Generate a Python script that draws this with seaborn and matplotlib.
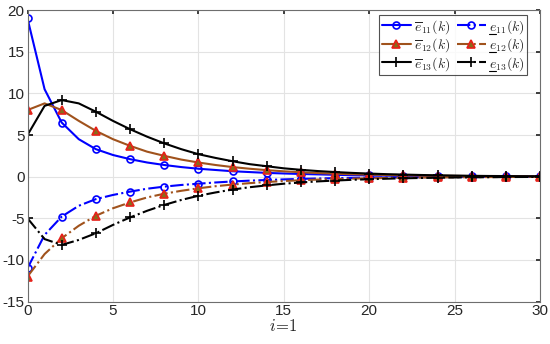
import matplotlib
matplotlib.use("Agg")
import matplotlib.pyplot as plt
from matplotlib.lines import Line2D
import numpy as np
import pandas as pd
import seaborn as sns

sns.set_theme(style="whitegrid")
plt.rcParams["font.family"] = ["Liberation Sans", "DejaVu Sans"]
plt.rcParams["mathtext.fontset"] = "cm"
plt.rcParams["axes.unicode_minus"] = False

k = list(range(31))

e11_up = [19.0, 10.5, 6.5, 4.5, 3.3, 2.6, 2.1, 1.7, 1.4, 1.15, 0.95, 0.8, 0.65, 0.55, 0.45, 0.38,
          0.32, 0.27, 0.22, 0.18, 0.15, 0.12, 0.1, 0.08, 0.07, 0.06, 0.05, 0.04, 0.03, 0.02, 0.02]
e12_up = [8.0, 8.8, 8.0, 6.7, 5.5, 4.5, 3.7, 3.0, 2.5, 2.05, 1.7, 1.4, 1.15, 0.95, 0.78, 0.64,
          0.53, 0.43, 0.35, 0.29, 0.24, 0.2, 0.16, 0.13, 0.11, 0.09, 0.07, 0.06, 0.05, 0.04, 0.03]
e13_up = [5.0, 8.5, 9.2, 8.8, 7.8, 6.7, 5.7, 4.8, 4.0, 3.3, 2.7, 2.25, 1.85, 1.5, 1.25, 1.0,
          0.82, 0.67, 0.55, 0.45, 0.37, 0.3, 0.25, 0.2, 0.16, 0.13, 0.1, 0.08, 0.07, 0.05, 0.04]
e11_lo = [-11.0, -7.0, -4.8, -3.5, -2.7, -2.2, -1.8, -1.45, -1.2, -1.0, -0.85, -0.7, -0.58, -0.48,
          -0.4, -0.33, -0.27, -0.22, -0.18, -0.15, -0.12, -0.1, -0.08, -0.07, -0.06, -0.05, -0.04,
          -0.03, -0.03, -0.02, -0.02]
e12_lo = [-12.0, -9.3, -7.4, -5.9, -4.7, -3.8, -3.1, -2.5, -2.05, -1.7, -1.4, -1.15, -0.95, -0.78,
          -0.64, -0.53, -0.43, -0.35, -0.29, -0.24, -0.2, -0.16, -0.13, -0.11, -0.09, -0.07, -0.06,
          -0.05, -0.04, -0.03, -0.03]
e13_lo = [-5.0, -7.5, -8.2, -7.6, -6.8, -5.8, -4.9, -4.1, -3.4, -2.8, -2.3, -1.9, -1.55, -1.27,
          -1.05, -0.85, -0.7, -0.57, -0.47, -0.38, -0.31, -0.25, -0.2, -0.16, -0.13, -0.1, -0.08,
          -0.07, -0.05, -0.04, -0.03]

# mathtext has no \underline; the lower-bound labels get their bar drawn by hand below
labels = [r"$\overline{e}_{11}(k)$", r"$e_{11}(k)$",
          r"$\overline{e}_{12}(k)$", r"$e_{12}(k)$",
          r"$\overline{e}_{13}(k)$", r"$e_{13}(k)$"]
series = [e11_up, e11_lo, e12_up, e12_lo, e13_up, e13_lo]

blue = "#0000FF"
brown = "#A0521C"
styles = [
    dict(color=blue, ls="-", marker="o", mec=blue, mfc="none", ms=5),
    dict(color=blue, ls="-.", marker="o", mec=blue, mfc="none", ms=5),
    dict(color=brown, ls="-", marker="^", mec="#E8201A", mfc="#8A6A1A", ms=6),
    dict(color=brown, ls="-.", marker="^", mec="#E8201A", mfc="#8A6A1A", ms=6),
    dict(color="black", ls="-", marker="+", mec="black", ms=6.5),
    dict(color="black", ls="-.", marker="+", mec="black", ms=6.5),
]

df = pd.DataFrame({lab: vals for lab, vals in zip(labels, series)})
df["k"] = k

fig = plt.figure(figsize=(5.5, 3.44), dpi=100)
ax = fig.add_axes([0.05, 0.1235, 0.932, 0.847])
ax.set_facecolor("white")

for lab, st in zip(labels, styles):
    sns.lineplot(data=df, x="k", y=lab, ax=ax, label=lab, color=st["color"],
                 linestyle=st["ls"], marker=st["marker"], markevery=2,
                 markeredgecolor=st["mec"], markerfacecolor=st["mfc"] if "mfc" in st else "none",
                 markersize=st["ms"], markeredgewidth=1.2, linewidth=1.5)

ax.set_xlim(0, 30)
ax.set_ylim(-15, 20)
ax.set_xticks(np.arange(0, 31, 5))
ax.set_yticks(np.arange(-15, 21, 5))
ax.set_xlabel(r"$i\!=\!1$", fontsize=12, labelpad=0)
ax.set_ylabel("")
ax.grid(True, color="#E3E3E3", linewidth=0.8)
for s in ax.spines.values():
    s.set_visible(True)
    s.set_color("#6E6E6E")
    s.set_linewidth(0.8)
ax.tick_params(axis="both", labelsize=11, colors="#262626", direction="in", length=3,
               top=True, right=True, pad=2)

LFS = 10
handles, labs = ax.get_legend_handles_labels()
order = [0, 2, 4, 1, 3, 5]
leg = ax.legend([handles[i] for i in order], [labs[i] for i in order], ncol=2,
                loc="upper right", bbox_to_anchor=(0.975, 0.983), fontsize=LFS,
                frameon=True, fancybox=False, edgecolor="#262626",
                handlelength=2.1, handletextpad=0.2, columnspacing=0.5,
                borderpad=0.2, labelspacing=0.05, borderaxespad=0.0)
leg.get_frame().set_linewidth(0.8)

# underline the "e" of the lower-bound labels
fig.canvas.draw()
renderer = fig.canvas.get_renderer()
probe = fig.text(0, 0, r"$e$", fontsize=LFS)
e_w = probe.get_window_extent(renderer).width
probe.remove()
W, H = fig.bbox.width, fig.bbox.height
for txt in leg.get_texts()[3:]:
    bb = txt.get_window_extent(renderer)
    y = bb.y0 + 2.0
    fig.add_artist(Line2D([(bb.x0 + 0.5) / W, (bb.x0 + e_w - 0.5) / W], [y / H, y / H],
                          transform=fig.transFigure, color="black", linewidth=0.8))

fig.savefig("out.png", dpi=100)
